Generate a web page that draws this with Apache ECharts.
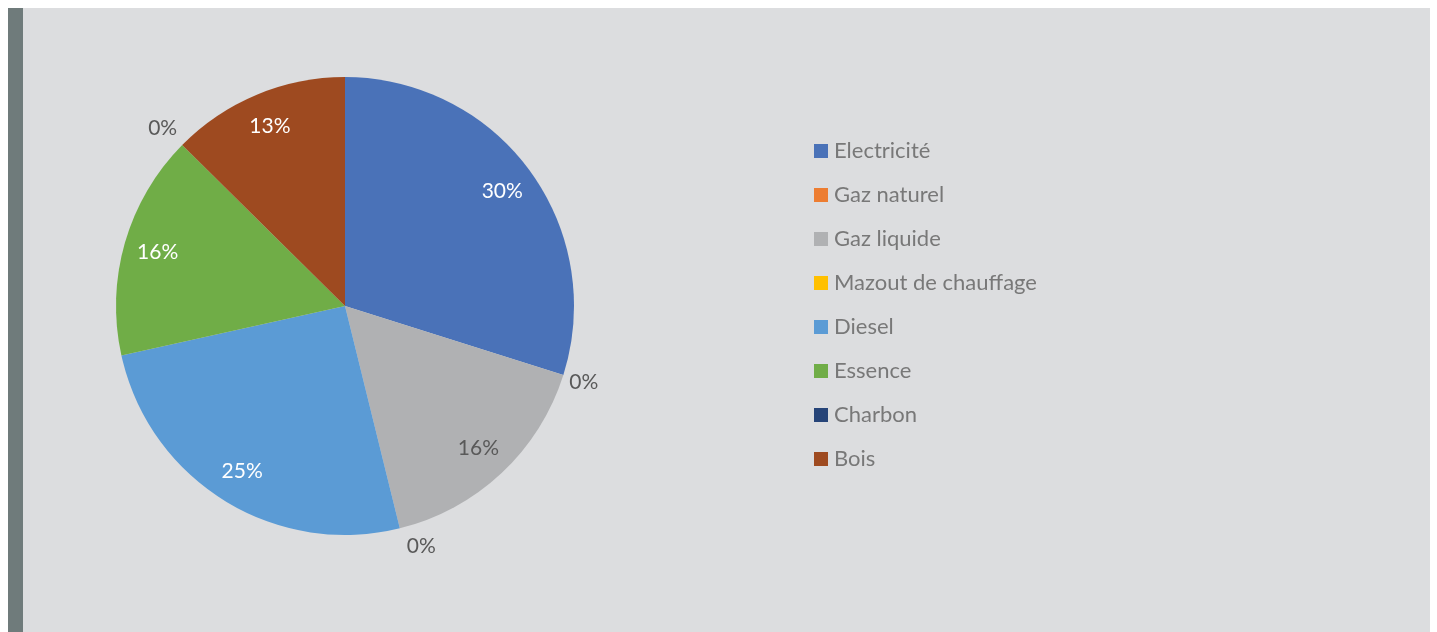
<!DOCTYPE html>
<html>
<head>
<meta charset="utf-8">
<script src="https://cdn.jsdelivr.net/npm/echarts@6/dist/echarts.min.js"></script>
<style>
  html, body { margin: 0; padding: 0; background: #fff; }
  #chart { width: 1437px; height: 632px; }
</style>
</head>
<body>
<div id="chart"></div>
<script>
// categories and values (share of energy)
const categories = ['Electricité', 'Gaz naturel', 'Gaz liquide', 'Mazout de chauffage', 'Diesel', 'Essence', 'Charbon', 'Bois'];
const values = [29.9, 0, 16.3, 0, 25.4, 15.9, 0, 12.6];
const colors = ['#4a72b8', '#ed7d31', '#b0b1b3', '#ffc000', '#5b9bd5', '#70ad47', '#264478', '#9e4a20'];
// label colour inside each slice
const labelColors = ['#ffffff', '#595959', '#595959', '#595959', '#ffffff', '#ffffff', '#595959', '#ffffff'];
// nudge for the labels of the empty slices (Excel puts them a bit off the edge)
const zeroOffsets = [[0, 7], [1, 7], [0, 0], [2, 18], [0, 0], [0, 0], [0, -17], [0, 0]];

const center = [345, 306];
const R = 229;

const chart = echarts.init(document.getElementById('chart'));

const pct = p => Math.round(p.percent) + '%';

chart.setOption({
  animation: false,
  color: colors,
  graphic: [
    { type: 'rect', left: 8, top: 8, shape: { width: 1422, height: 624 }, style: { fill: '#dcdddf' }, z: -10 },
    { type: 'rect', left: 8, top: 8, shape: { width: 15, height: 624 }, style: { fill: '#6f7b7b' }, z: -9 }
  ],
  legend: {
    orient: 'vertical',
    left: 814,
    top: 140,
    padding: 0,
    itemWidth: 14,
    itemHeight: 14,
    itemGap: 22,
    icon: 'rect',
    textStyle: { fontFamily: 'Lato', fontSize: 22, color: '#787878', padding: [0, 0, 0, 1] },
    data: categories
  },
  series: [
    {
      // slices, plus the labels of the empty ones outside
      type: 'pie',
      center: center,
      radius: R,
      startAngle: 90,
      clockwise: true,
      avoidLabelOverlap: false,
      itemStyle: { borderWidth: 0 },
      label: { show: false },
      labelLine: { show: false },
      data: categories.map((name, i) => ({
        name: name,
        value: values[i],
        label: values[i] === 0 ? {
          show: true,
          position: 'outside',
          formatter: pct,
          fontFamily: 'Lato',
          fontSize: 21,
          color: '#595959',
          offset: zeroOffsets[i]
        } : { show: false },
        labelLine: { show: false, length: 0, length2: 0 }
      }))
    },
    {
      // transparent ring, used only to put the labels at ~0.84 of the radius
      type: 'pie',
      center: center,
      radius: [155, R],
      startAngle: 90,
      clockwise: true,
      silent: true,
      legendHoverLink: false,
      itemStyle: { color: 'rgba(0,0,0,0)', borderWidth: 0 },
      labelLine: { show: false },
      data: categories.map((name, i) => ({
        name: name,
        value: values[i],
        label: {
          show: values[i] > 0,
          position: 'inside',
          formatter: pct,
          fontFamily: 'Lato',
          fontSize: 21,
          color: labelColors[i]
        }
      }))
    }
  ]
});
</script>
</body>
</html>
